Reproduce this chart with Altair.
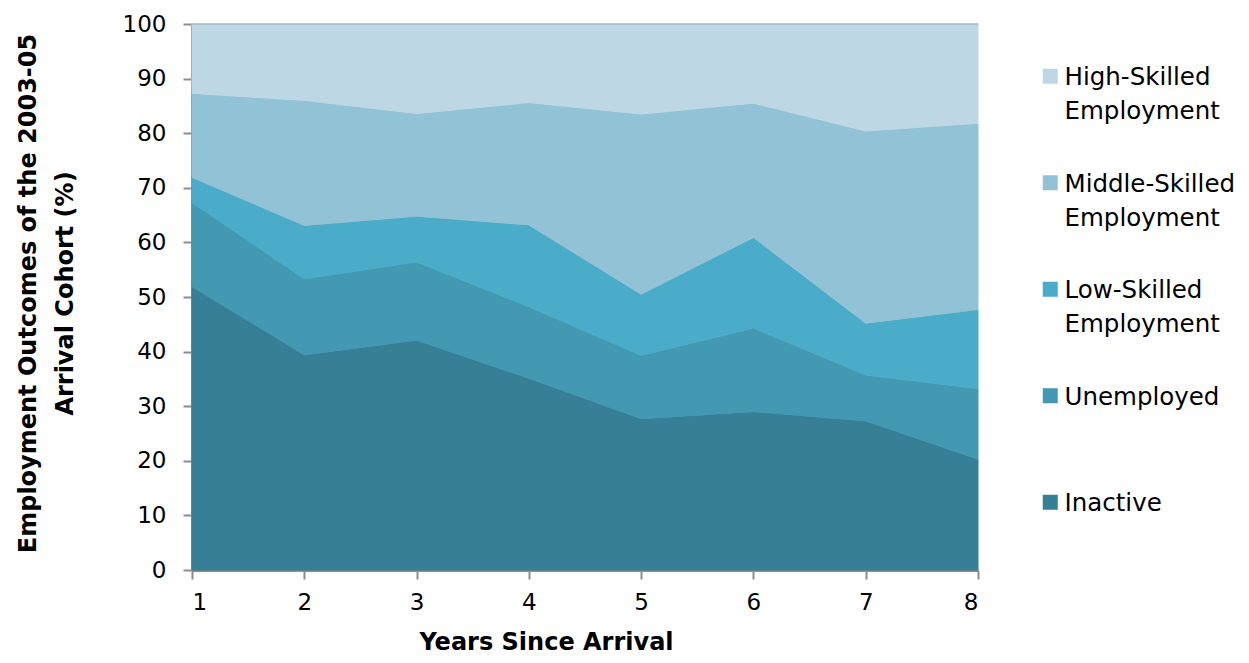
import altair as alt
import pandas as pd

years = [1, 2, 3, 4, 5, 6, 7, 8]
categories = [
    "High-Skilled Employment",
    "Middle-Skilled Employment",
    "Low-Skilled Employment",
    "Unemployed",
    "Inactive",
]
colors = ["#BDD8E4", "#92C2D6", "#4AACC8", "#4398B2", "#367F96"]

inactive = [51.9, 39.4, 42.1, 35.1, 27.7, 29.0, 27.3, 20.3]
unemployed = [15.4, 13.9, 14.3, 13.1, 11.6, 15.3, 8.4, 12.9]
low_skilled = [4.6, 9.8, 8.4, 15.0, 11.2, 16.6, 9.5, 14.5]
middle_skilled = [15.4, 22.9, 18.8, 22.4, 33.0, 24.6, 35.2, 34.1]
high_skilled = [12.7, 14.0, 16.4, 14.4, 16.5, 14.5, 19.6, 18.2]

series = {
    "Inactive": inactive,
    "Unemployed": unemployed,
    "Low-Skilled Employment": low_skilled,
    "Middle-Skilled Employment": middle_skilled,
    "High-Skilled Employment": high_skilled,
}

rows = []
for rank, (name, vals) in enumerate(series.items()):
    for yr, v in zip(years, vals):
        rows.append({"Year": yr, "Category": name, "Value": v, "rank": rank})
source = pd.DataFrame(rows)

FONT = "DejaVu Sans"
GRAY = "#8C8C8C"
cat_scale = alt.Scale(domain=categories, range=colors)

area = alt.Chart(source).mark_area(opacity=1, strokeWidth=1).encode(
    x=alt.X("Year:Q",
            scale=alt.Scale(domain=[1, 8], nice=False, zero=False),
            axis=alt.Axis(values=years, format="d",
                          title="Years Since Arrival",
                          titleX=354, titleY=79, titleBaseline="alphabetic",
                          titleAlign="center")),
    y=alt.Y("Value:Q", stack="zero",
            scale=alt.Scale(domain=[0, 100], nice=False),
            axis=alt.Axis(values=list(range(0, 101, 10)),
                          title=["Employment Outcomes of the 2003-05", "Arrival Cohort (%)"],
                          titleAngle=-90, titleX=-176, titleY=269,
                          titleAlign="center", titleBaseline="top",
                          titleLineHeight=37, labelPadding=17)),
    color=alt.Color("Category:N", scale=cat_scale,
                    legend=alt.Legend(
                        title=None, orient="none", legendX=846, legendY=49,
                        symbolType="M-1,-2.2H1V-0.2H-1Z", symbolSize=225,
                        symbolStrokeWidth=0,
                        labelFontSize=24.5, labelFont=FONT, labelColor="black",
                        labelLimit=300, labelOffset=2, gridAlign="all",
                        rowPadding=47.5, labelBaseline="alphabetic",
                        labelExpr="indexof(datum.label, ' ') > 0 ? split(datum.label, ' ') : datum.label")),
    stroke=alt.Stroke("Category:N", scale=cat_scale, legend=None),
    order=alt.Order("rank:Q", sort="ascending"),
)

# thin grey edge along the top of the plot (the 100 line)
top_edge = alt.Chart(pd.DataFrame({"top": [100]})).mark_rule(
    color="#9AA6AC", strokeWidth=1
).encode(y="top:Q")

chart = alt.layer(area, top_edge).properties(
    width=786,
    height=546,
    autosize=alt.AutoSizeParams(type="none"),
    padding={"left": 184, "top": 16, "right": 263, "bottom": 85},
).configure(
    style={"guide-label": {"lineHeight": 34}}
).configure_view(
    strokeWidth=0
).configure_axis(
    grid=False,
    domainColor=GRAY, domainWidth=3,
    tickColor=GRAY, tickWidth=2, tickSize=9,
    labelFont=FONT, labelFontSize=23, labelColor="black",
    titleFont=FONT, titleFontSize=24, titleFontWeight="bold", titleColor="black",
).configure_axisX(
    labelPadding=12
)

chart.save("out.html", embed_options={"renderer": "svg", "actions": False})
